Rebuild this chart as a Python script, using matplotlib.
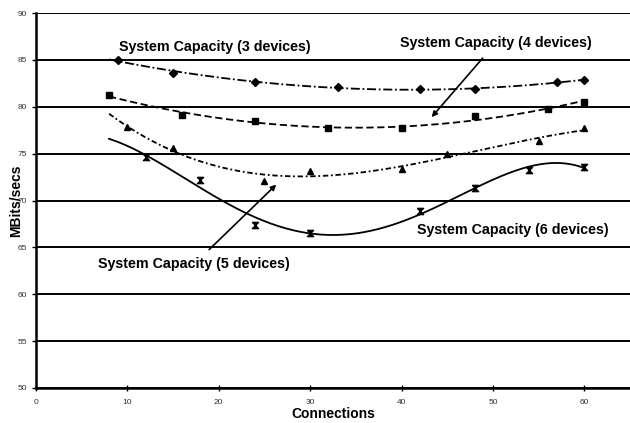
import numpy as np
import matplotlib.pyplot as plt

plt.rcParams['font.family'] = ['Liberation Sans', 'DejaVu Sans']

# measured throughput per number of connections
x3 = [9, 15, 24, 33, 42, 48, 57, 60]
y3 = [85.0, 83.6, 82.7, 82.1, 81.9, 81.85, 82.6, 82.9]

x4 = [8, 16, 24, 32, 40, 48, 56, 60]
y4 = [81.3, 79.1, 78.5, 77.7, 77.7, 79.0, 79.8, 80.5]

x5 = [10, 15, 25, 30, 40, 45, 55, 60]
y5 = [77.8, 75.6, 72.1, 73.1, 73.4, 75.0, 76.3, 77.7]

x6 = [12, 18, 24, 30, 42, 48, 54, 60]
y6 = [74.6, 72.2, 67.4, 66.5, 68.9, 71.3, 73.3, 73.6]

hourglass = [(-1, 1), (1, 1), (-1, -1), (1, -1), (-1, 1)]

series = [
    (x3, y3, 'D', 2, (0, (5, 1.5, 1, 1.5))),
    (x4, y4, 's', 2, (0, (4, 2))),
    (x5, y5, '^', 3, (0, (3, 1.5, 1, 1.5))),
    (x6, y6, hourglass, 4, '-'),
]

fig = plt.figure(figsize=(6.3, 4.23), dpi=100)
ax = fig.add_axes([0.057, 0.083, 0.943, 0.886])

xfit = np.linspace(8, 60, 200)
for xs, ys, mk, deg, ls in series:
    ax.plot(xs, ys, linestyle='none', marker=mk, color='black', markersize=4.5)
    coef = np.polyfit(xs, ys, deg)
    ax.plot(xfit, np.polyval(coef, xfit), color='black', lw=1.3, linestyle=ls)

ax.set_xlim(0, 65)
ax.set_ylim(50, 90)
ax.set_xticks(range(0, 61, 10))
ax.set_yticks(range(50, 91, 5))
ax.yaxis.grid(True, color='black', lw=1.4)
ax.set_axisbelow(True)
for s in ['top', 'right']:
    ax.spines[s].set_visible(False)
for s in ['left', 'bottom']:
    ax.spines[s].set_linewidth(1.8)
ax.tick_params(axis='both', labelsize=6, colors='black', labelcolor='#333333',
               length=3, width=1)
ax.tick_params(axis='x', direction='inout', length=4, pad=6)

ax.set_xlabel('Connections', fontsize=10, fontweight='bold', labelpad=1)
ax.set_ylabel('MBits/secs', fontsize=10, fontweight='bold', labelpad=-4)

tstyle = dict(fontsize=10.3, fontweight='bold', ha='center', va='center')
ax.text(19.6, 86.4, 'System Capacity (3 devices)', **tstyle)
ax.annotate('System Capacity (4 devices)', xy=(43.3, 78.9), xytext=(50.3, 86.8),
            arrowprops=dict(arrowstyle='-|>', color='black', lw=1.2,
                            mutation_scale=8, shrinkA=5, shrinkB=0), **tstyle)
ax.annotate('System Capacity (5 devices)', xy=(26.3, 71.7), xytext=(17.3, 63.2),
            arrowprops=dict(arrowstyle='-|>', color='black', lw=1.2,
                            mutation_scale=8, shrinkA=5, shrinkB=0), **tstyle)
ax.text(52.2, 66.8, 'System Capacity (6 devices)', **tstyle)

fig.savefig('out.png', dpi=100)
